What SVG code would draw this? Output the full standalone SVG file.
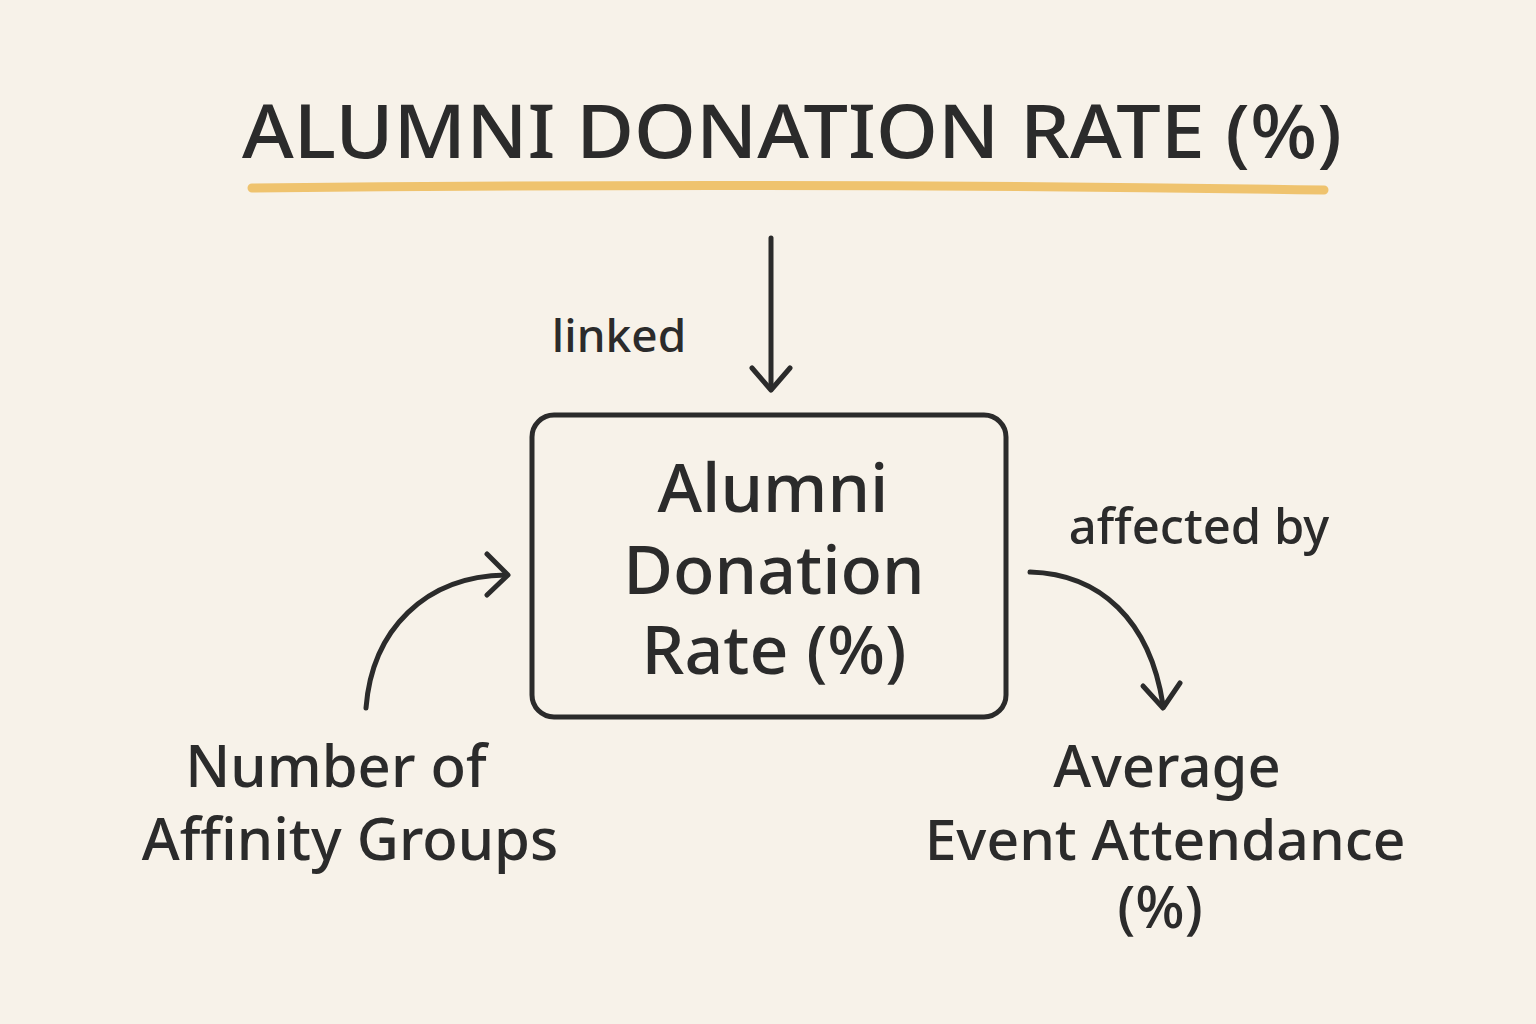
<svg xmlns="http://www.w3.org/2000/svg" width="1536" height="1024" viewBox="0 0 1536 1024">
<style>
.t{font-family:"Noto Sans","DejaVu Sans",sans-serif;fill:#2b2b2b;text-anchor:middle;font-weight:500}
.ln{fill:none;stroke:#2b2b2b;stroke-width:5;stroke-linecap:round;stroke-linejoin:round}
</style>
<rect width="1536" height="1024" fill="#f7f2e9"/>
<g id="title">
<text class="t" x="792" y="158" font-size="74" textLength="1100" lengthAdjust="spacingAndGlyphs">ALUMNI DONATION RATE (%)</text>
<path d="M252,188 Q790,182 1324,190" fill="none" stroke="#efc36e" stroke-width="9" stroke-linecap="round"/>
</g>
<g id="connectors">
<path class="ln" d="M771,238 L771,388"/>
<path class="ln" d="M752,368 L771,390 L790,368"/>
<path class="ln" d="M366,708 C372,630 425,576 506,575"/>
<path class="ln" d="M487,554 L508,575 L487,595"/>
<path class="ln" d="M1030,572 C1100,574 1150,620 1163,705"/>
<path class="ln" d="M1143,686 L1163,708 L1180,683"/>
</g>
<g id="label-linked"><text class="t" x="619" y="352" font-size="46">linked</text></g>
<g id="label-affected"><text class="t" x="1199" y="544" font-size="49">affected by</text></g>
<g id="center-node">
<rect x="532" y="415" width="474" height="302" rx="22" class="ln"/>
<text class="t" x="773" y="512" font-size="68">Alumni</text>
<text class="t" x="774" y="594" font-size="68">Donation</text>
<text class="t" x="774" y="674" font-size="68">Rate (%)</text>
</g>
<g id="left-node">
<text class="t" x="336" y="787" font-size="58">Number of</text>
<text class="t" x="350" y="860" font-size="58">Affinity Groups</text>
</g>
<g id="right-node">
<text class="t" x="1167" y="787" font-size="58">Average</text>
<text class="t" x="1165" y="860" font-size="57">Event Attendance</text>
<text class="t" x="1160" y="928" font-size="58">(%)</text>
</g>
</svg>
